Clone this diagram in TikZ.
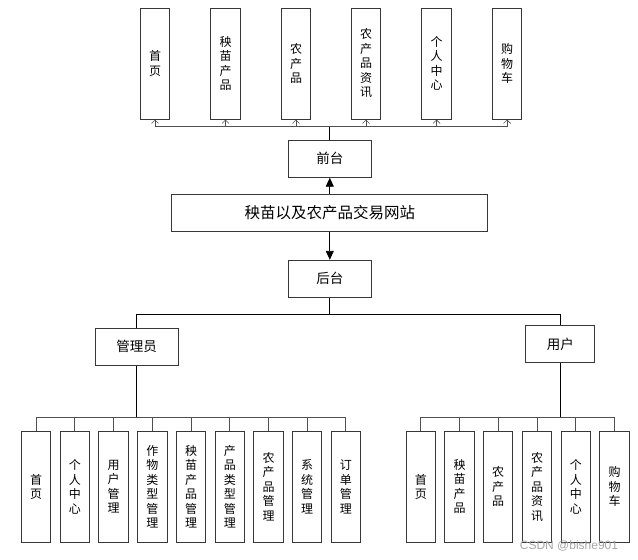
\documentclass[tikz,border=0pt]{standalone}
\usepackage{fontspec}
\newfontfamily\cjk{Noto Sans CJK SC}
\newfontfamily\wmfont{Liberation Sans}
\usetikzlibrary{arrows.meta}
\definecolor{boxline}{RGB}{55,55,55}
\definecolor{stub}{RGB}{80,80,80}
\tikzset{
  vbox/.style={draw=boxline, line width=1pt, fill=white, minimum width=29.5pt, minimum height=111pt, inner sep=0pt, align=center, font={\cjk\fontsize{12}{14.5}\selectfont}},
  hbox/.style={draw=boxline, line width=1pt, fill=white, minimum height=37pt, inner sep=0pt, font={\cjk\fontsize{13.5}{15}\selectfont}},
  conn/.style={draw=black, line width=0.9pt},
  stubline/.style={draw=stub, line width=0.9pt},
  openarr/.style={stubline, -{Straight Barb[length=3.5pt,width=7pt,line width=0.7pt]}},
  fillarr/.style={conn, -{Triangle[length=9pt,width=8pt]}}
}
\begin{document}
\begin{tikzpicture}[x=1pt,y=-1pt]
\useasboundingbox (0,0) rectangle (638,560);
% top boxes
\node[vbox] (t1) at (155,63.5) {首\\页};
\node[vbox] (t2) at (225.5,63.5) {秧\\苗\\产\\品};
\node[vbox] (t3) at (296,63.5) {农\\产\\品};
\node[vbox] (t4) at (366,63.5) {农\\产\\品\\资\\讯};
\node[vbox] (t5) at (436.5,63.5) {个\\人\\中\\心};
\node[vbox] (t6) at (507,63.5) {购\\物\\车};
% middle
\node[hbox, minimum width=83pt] (qt) at (329.8,158.7) {前台};
\node[hbox, minimum width=316pt, font={\cjk\fontsize{15.5}{17}\selectfont}] (main) at (329.8,212.8) {秧苗以及农产品交易网站};
\node[hbox, minimum width=83pt] (ht) at (329.8,278.8) {后台};
\node[hbox, minimum width=83pt] (gl) at (136.5,346.5) {管理员};
\node[hbox, minimum width=69pt] (yh) at (560.3,344.2) {用户};
% admin boxes
\node[vbox, minimum height=110.7pt] (a1) at (36.2,486.7) {首\\页};
\node[vbox, minimum height=110.7pt] (a2) at (74.9,486.7) {个\\人\\中\\心};
\node[vbox, minimum height=110.7pt] (a3) at (113.6,486.7) {用\\户\\管\\理};
\node[vbox, minimum height=110.7pt] (a4) at (152.4,486.7) {作\\物\\类\\型\\管\\理};
\node[vbox, minimum height=110.7pt] (a5) at (191.1,486.7) {秧\\苗\\产\\品\\管\\理};
\node[vbox, minimum height=110.7pt] (a6) at (229.8,486.7) {产\\品\\类\\型\\管\\理};
\node[vbox, minimum height=110.7pt] (a7) at (268.5,486.7) {农\\产\\品\\管\\理};
\node[vbox, minimum height=110.7pt] (a8) at (307.2,486.7) {系\\统\\管\\理};
\node[vbox, minimum height=110.7pt] (a9) at (345.8,486.7) {订\\单\\管\\理};
% user boxes
\node[vbox, minimum height=110.7pt] (u1) at (420.8,486.7) {首\\页};
\node[vbox, minimum height=110.7pt] (u2) at (459.5,486.7) {秧\\苗\\产\\品};
\node[vbox, minimum height=110.7pt] (u3) at (498.2,486.7) {农\\产\\品};
\node[vbox, minimum height=110.7pt] (u4) at (537.1,486.7) {农\\产\\品\\资\\讯};
\node[vbox, minimum height=110.7pt] (u5) at (575.8,486.7) {个\\人\\中\\心};
\node[vbox, minimum height=110.7pt] (u6) at (614.5,486.7) {购\\物\\车};
% coordinates
\coordinate (tbus) at (329.8,126);
\coordinate (split) at (329.8,314.3);
\coordinate (abus) at (136.5,417.3);
\coordinate (ubus) at (560.3,417.3);
% top connectors
\draw[conn] (qt.north) -- (tbus);
\foreach \i in {1,...,6} { \draw[openarr] (tbus) -| (t\i.south); }
\draw[fillarr] (main.north) -- (qt.south);
\draw[fillarr] (main.south) -- (ht.north);
% lower connectors
\draw[conn] (ht.south) -- (split);
\draw[conn] (gl.north) |- (split) -| (yh.north);
\draw[conn] (gl.south) -- (abus);
\draw[conn] (yh.south) -- (ubus);
\foreach \i in {1,...,9} { \draw[stubline] (a\i.north) |- (abus); }
\foreach \i in {1,...,6} { \draw[stubline] (u\i.north) |- (ubus); }
\node[font={\wmfont\fontsize{12}{14}\selectfont}, text=black!35, inner sep=0pt] (wm) at (569,545.5) {CSDN @bishe901};
\end{tikzpicture}
\end{document}
